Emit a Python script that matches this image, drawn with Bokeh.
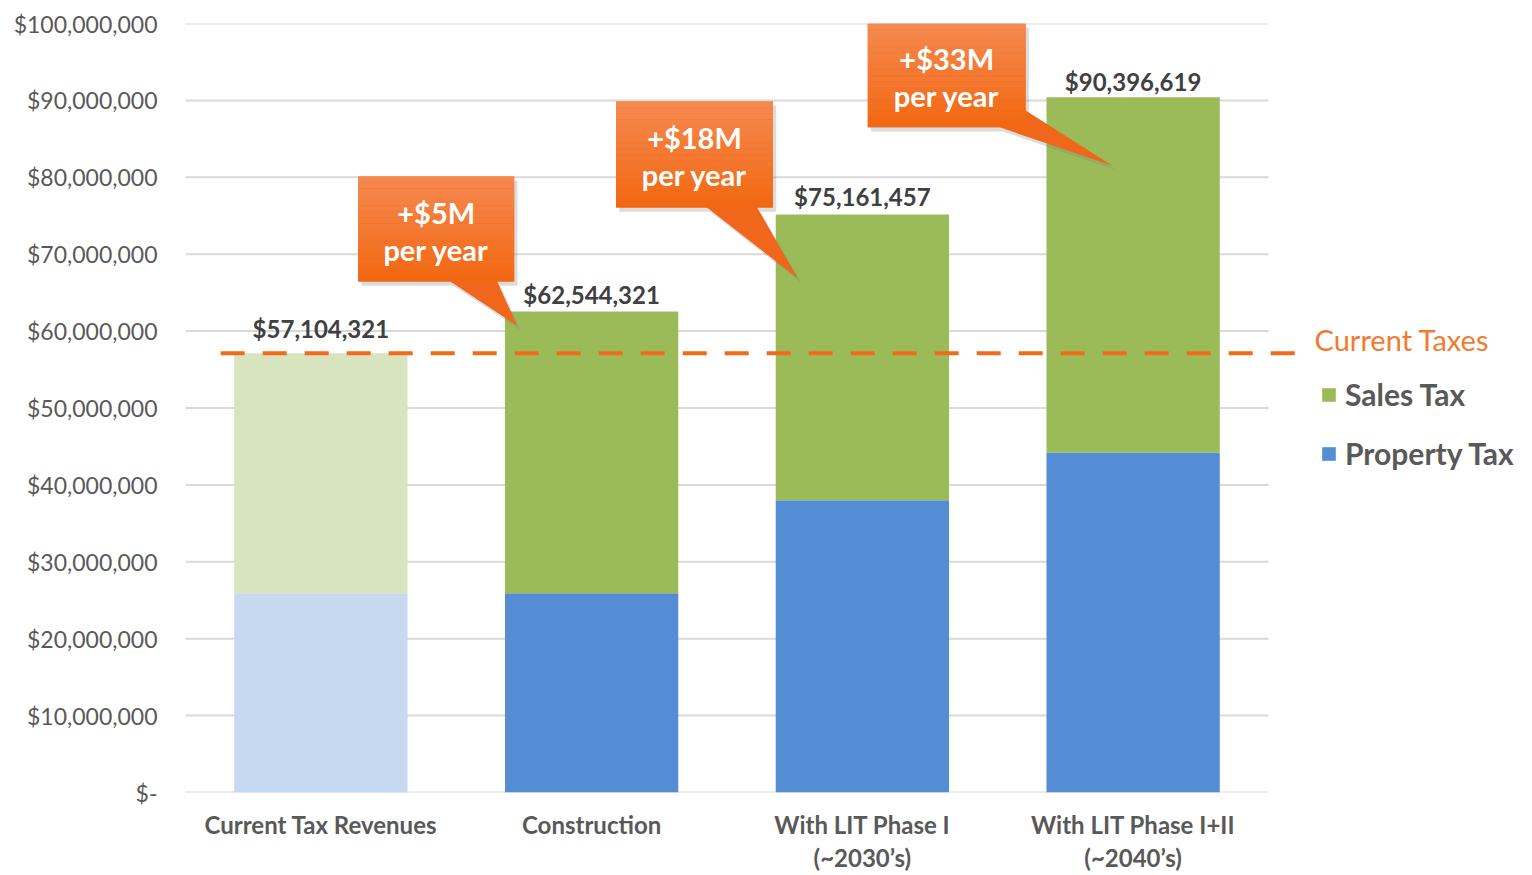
from bokeh.plotting import figure
from bokeh.models import Range1d, FixedTicker, Legend, LegendItem, Label, ColumnDataSource
from bokeh.core.properties import value
from bokeh.embed import file_html
from bokeh.resources import INLINE

# ---------------- data ----------------
categories = ["Current Tax Revenues", "Construction",
              "With LIT Phase I\n(~2030’s)", "With LIT Phase I+II\n(~2040’s)"]
totals = [57104321, 62544321, 75161457, 90396619]
property_tax = [25900000, 25900000, 38000000, 44200000]
sales_tax = [t - p for t, p in zip(totals, property_tax)]
total_labels = ["$57,104,321", "$62,544,321", "$75,161,457", "$90,396,619"]
current_taxes = 57104321
callout_line1 = ["+$5M", "+$18M", "+$33M"]
callout_line2 = ["per year", "per year", "per year"]
y_ticks = [0, 10000000, 20000000, 30000000, 40000000, 50000000,
           60000000, 70000000, 80000000, 90000000, 100000000]
y_tick_labels = ["$-", "$10,000,000", "$20,000,000", "$30,000,000", "$40,000,000",
                 "$50,000,000", "$60,000,000", "$70,000,000", "$80,000,000",
                 "$90,000,000", "$100,000,000"]

# ---------------- styles ----------------
FONT = "Lato"
prop_colors = ["#C6D9F1", "#548DD4", "#548DD4", "#548DD4"]
sales_colors = ["#D7E4BD", "#9BBB59", "#9BBB59", "#9BBB59"]
ORANGE = "#F26B1D"
GRAY = "#595959"
M = 1e6

xs = list(range(len(categories)))
src = ColumnDataSource(dict(x=xs, prop=property_tax, tot=totals,
                            pc=prop_colors, sc=sales_colors, lab=total_labels,
                            off=[-25, -17, -18, -16]))

p = figure(width=1516, height=875, output_backend="svg", toolbar_location=None,
           x_range=Range1d(-0.5, 4.416), y_range=Range1d(0, 100 * M),
           min_border_left=185, min_border_right=0, min_border_top=23, min_border_bottom=83)
p.outline_line_color = None
p.xgrid.visible = False
p.ygrid.visible = False
p.background_fill_color = "white"

# grid lines (stop at the last category slot)
for t in y_ticks:
    p.segment(x0=-0.5, x1=3.5, y0=t, y1=t, line_color="#D9D9D9", line_width=2)

# bars
prop_r = p.vbar(x="x", top="prop", bottom=0, width=0.64, source=src,
                fill_color="pc", line_color=None)
sales_r = p.vbar(x="x", top="tot", bottom="prop", width=0.64, source=src,
                 fill_color="sc", line_color=None)

# total labels
p.text(x="x", y="tot", text="lab", source=src, y_offset="off",
       text_align="center", text_baseline="alphabetic",
       text_font=value(FONT), text_font_style="bold", text_font_size="24px",
       text_color="#404040")

# current taxes dashed line
p.segment(x0=-0.37, x1=3.6, y0=current_taxes, y1=current_taxes,
          line_color=ORANGE, line_width=4, line_dash="24 18")

# callouts (geometry in data units: x = category slots, y = $M)
callouts = [
    dict(poly=[(0.138, 80.1), (0.714, 80.1), (0.714, 66.45), (0.651, 66.45),
               (0.725, 60.7), (0.478, 66.45), (0.138, 66.45)],
         x0=0.138, x1=0.714, top=80.1, bot=66.45),
    dict(poly=[(1.090, 89.86), (1.670, 89.86), (1.670, 76.07), (1.611, 76.07),
               (1.762, 66.84), (1.426, 76.07), (1.090, 76.07)],
         x0=1.090, x1=1.670, top=89.86, bot=76.07),
    dict(poly=[(2.020, 100.0), (2.603, 100.0), (2.603, 88.7),
               (2.924, 81.5), (2.507, 86.5), (2.020, 86.5)],
         x0=2.020, x1=2.603, top=100.0, bot=86.5),
]
c_top = (246, 137, 80)
c_bot = (242, 104, 18)
NSTRIP = 18
for i, c in enumerate(callouts):
    px = [v[0] for v in c["poly"]]
    py = [v[1] * M for v in c["poly"]]
    # shadow
    p.patch([v + 0.012 for v in px], [v - 0.55 * M for v in py],
            fill_color="#808080", fill_alpha=0.28, line_color=None)
    p.patch(px, py, fill_color="#F0661A", line_color=None)
    h = (c["top"] - c["bot"]) / NSTRIP
    for k in range(NSTRIP):
        f = k / (NSTRIP - 1)
        col = "#%02x%02x%02x" % tuple(int(round(a + (b - a) * f)) for a, b in zip(c_top, c_bot))
        p.quad(left=c["x0"], right=c["x1"], top=(c["top"] - k * h) * M,
               bottom=(c["top"] - (k + 1) * h - 0.02) * M if k < NSTRIP - 1 else c["bot"] * M,
               fill_color=col, line_color=None)
    cx = (c["x0"] + c["x1"]) / 2
    mid = (c["top"] + c["bot"]) / 2
    p.text(x=[cx], y=[(mid + 2.15) * M], text=[callout_line1[i]], text_align="center",
           text_baseline="middle", text_font=value(FONT), text_font_style="bold",
           text_font_size="29px", text_color="white")
    p.text(x=[cx], y=[(mid - 2.6) * M], text=[callout_line2[i]], text_align="center",
           text_baseline="middle", text_font=value(FONT), text_font_style="bold",
           text_font_size="29px", text_color="white")

# axes
p.yaxis.ticker = FixedTicker(ticks=y_ticks)
p.yaxis.major_label_overrides = {t: l for t, l in zip(y_ticks, y_tick_labels)}
p.yaxis.axis_line_color = None
p.yaxis.major_tick_line_color = None
p.yaxis.minor_tick_line_color = None
p.yaxis.major_tick_out = 0
p.yaxis.major_tick_in = 0
p.yaxis.minor_tick_out = 0
p.yaxis.major_label_standoff = 28
p.yaxis.major_label_text_font = FONT
p.yaxis.major_label_text_font_size = "23px"
p.yaxis.major_label_text_color = GRAY

p.xaxis.ticker = FixedTicker(ticks=xs)
p.xaxis.major_label_overrides = {i: c for i, c in enumerate(categories)}
p.xaxis.axis_line_color = None
p.xaxis.major_tick_line_color = None
p.xaxis.minor_tick_line_color = None
p.xaxis.major_tick_out = 0
p.xaxis.major_tick_in = 0
p.xaxis.minor_tick_out = 0
p.xaxis.major_label_standoff = 17
p.xaxis.major_label_text_font = FONT
p.xaxis.major_label_text_font_style = "bold"
p.xaxis.major_label_text_font_size = "24px"
p.xaxis.major_label_text_color = GRAY
p.xaxis.major_label_text_line_height = 1.15

# "Current Taxes" label
p.add_layout(Label(x=3.67, y=current_taxes + 1.8 * M, text="Current Taxes",
                   text_font=FONT, text_font_size="29px", text_color="#F4792F",
                   text_baseline="middle"))

legend = Legend(items=[LegendItem(label="Sales Tax", renderers=[sales_r], index=1),
                       LegendItem(label="Property Tax", renderers=[prop_r], index=1)],
                location=(1135, 321))
legend.label_text_font = FONT
legend.label_text_font_style = "bold"
legend.label_text_font_size = "30px"
legend.label_text_color = GRAY
legend.glyph_width = 17
legend.glyph_height = 17
legend.label_height = 30
legend.label_standoff = 8
legend.spacing = 23
legend.padding = 0
legend.margin = 0
legend.border_line_alpha = 0
legend.background_fill_alpha = 0
p.add_layout(legend)

open("out.html", "w").write(file_html(p, INLINE))
